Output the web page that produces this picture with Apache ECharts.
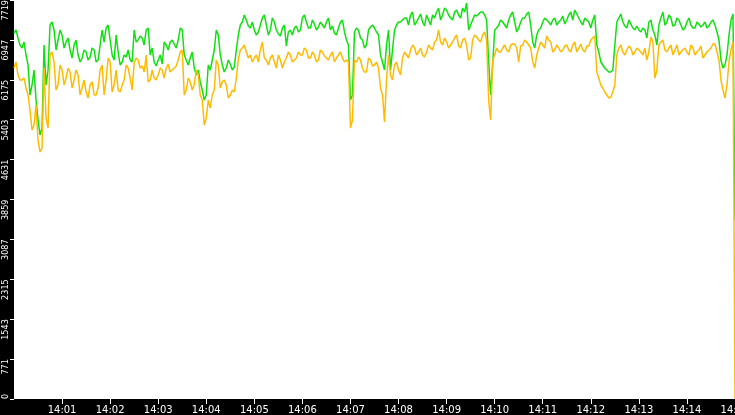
<!DOCTYPE html>
<html>
<head>
<meta charset="utf-8">
<script src="https://cdn.jsdelivr.net/npm/echarts@6/dist/echarts.min.js"></script>
<style>
html,body{margin:0;padding:0;background:#000;}
#chart{width:735px;height:415px;}
</style>
</head>
<body>
<div id="chart"></div>
<script>
// Sample times: seconds after 14:00:00 (every 2.5 s, plus the final sample at 14:15:00)
const sampleStepSeconds = 2.5;
const regularSampleCount = 360;
const tailSeconds = [900];

const greenValues = [
7081,7139,6984,6848,6790,6906,6655,6462,5881,6075,6365,5784,5397,5107,5243,6848,6075,6365,7235,7293,
7139,6752,6945,7139,7042,6790,6906,6984,6752,6597,6848,6945,6655,6520,6597,6752,6713,6558,6616,6790,
6752,6520,6558,6848,7139,6906,7177,7235,6945,6655,6558,7042,6713,6462,6520,6655,6616,6752,6558,6520,
7139,6906,6945,7023,6984,6848,7139,7177,6655,6790,6520,6442,6558,6655,6481,6906,6848,6752,6906,6945,
6868,6790,6945,7177,7139,6655,6558,6462,6597,6713,6403,6268,6365,6133,5978,5784,5881,6462,6365,6558,
6752,7139,7042,6655,6462,6326,6403,6558,6481,6365,6423,6752,7042,7235,7293,7429,7332,7216,7177,7293,
7139,7042,7100,7235,7371,7429,7235,7042,7139,7371,7293,7139,7061,7023,7177,7235,6829,7100,7139,7042,
7177,7216,7100,7139,7371,7429,7293,7177,7177,7332,7255,7139,7197,7293,7235,7177,7293,7371,7139,7216,
7081,7042,7177,7293,7332,7100,6945,6848,5784,5881,7100,7177,7139,6984,6945,6790,6848,7139,7197,7235,
7177,7100,7042,6655,6520,6365,6848,7139,6365,6752,7139,7235,7293,7293,7332,7371,7371,7235,7429,7487,
7235,7293,7371,7448,7293,7216,7429,7332,7235,7429,7371,7487,7564,7332,7429,7564,7526,7429,7371,7332,
7487,7526,7429,7371,7564,7487,7661,7139,7235,7332,7429,7409,7448,7487,7487,7429,7332,6520,5881,6462,
7139,7177,7235,7332,7293,7235,7177,7332,7429,7487,7293,7100,7177,7293,7371,7371,7448,7487,7235,6906,
6790,7042,7139,7177,7293,7371,7332,7293,7235,7332,7371,7235,7293,7332,7409,7255,7332,7429,7487,7332,
7526,7448,7371,7293,7235,7371,7332,7293,7177,7332,7429,6848,6713,6520,6462,6403,6365,6326,6326,6365,
6848,7293,7371,7448,7293,7216,7177,7332,7255,7177,7139,7216,7139,7100,7177,7139,6984,7293,7332,7139,
7042,6848,7235,7371,7487,7235,7293,7429,7371,7216,7235,7371,7332,7235,7139,7177,7293,7371,7235,7177,
7177,7293,7255,7197,7235,7293,7177,7216,7293,7332,7235,7100,6945,6558,6403,6462,6655,7042,7332,7448,
3463
];

const orangeValues = [
6403,6520,6268,6171,6171,6210,6017,5881,5591,5204,5301,5688,5010,4778,4856,6403,5436,5243,6655,6713,
6520,5978,6075,6462,6365,6075,6210,6403,6326,6017,6171,6365,6268,5881,6017,6171,5939,5823,6075,6133,
5881,5881,6017,6365,6462,5881,6171,6597,6520,5939,6075,6365,5978,5939,6075,6171,6462,6403,6210,5978,
6500,6597,6558,6403,6442,6326,6655,6133,6171,6365,6210,6171,6268,6403,6365,6210,6403,6481,6326,6365,
6403,6442,6558,6713,6752,5881,5978,6210,6133,5978,6075,6365,6268,5881,5784,5301,5436,5784,5630,5881,
5978,6558,6462,6017,6133,6171,6075,5823,5881,5978,5939,6210,6558,6752,6790,6848,6713,6597,6655,6520,
6597,6655,6520,6752,6906,6597,6558,6462,6597,6655,6520,6403,6655,6558,6403,6520,6597,6713,6655,6520,
6558,6597,6713,6655,6655,6790,6752,6597,6597,6713,6655,6520,6558,6752,6713,6636,6597,6558,6655,6713,
6520,6597,6655,6713,6597,6520,6558,6520,5243,5397,6558,6520,6616,6558,6403,6326,6326,6597,6558,6442,
6462,6520,6403,6017,5881,5359,6171,6655,6268,6171,6462,6520,6365,6268,6597,6713,6655,6597,6752,6848,
6790,6655,6713,6790,6655,6616,6713,6848,6790,6752,6906,6945,7139,6906,6848,6984,6906,6790,6848,6906,
6984,7042,6829,6790,6945,6984,6848,6558,6597,6945,7042,7003,6945,6906,7042,7100,6945,5784,5397,6558,
6655,6790,6713,6713,6790,6848,6752,6713,6848,6868,6868,6790,6520,6829,6848,6945,6906,6848,6790,6520,
6403,6655,6790,6906,6848,6790,7023,6945,6906,6713,6752,6848,6790,6713,6752,6829,6848,6752,6713,6848,
6906,6713,6790,6868,6752,6713,6829,6829,6945,6984,7023,6326,6210,6075,6017,5939,5881,5823,5842,5939,
6075,6655,6790,6848,6713,6655,6752,6829,6790,6655,6713,6790,6752,6713,6655,6790,6558,6713,7003,6906,
6210,6365,6848,6906,6945,6752,6713,6790,6848,6655,6752,6848,6655,6713,6752,6790,6713,6655,6848,6790,
6655,6713,6752,6829,6597,6655,6713,6752,6790,6868,6868,6713,6558,6171,5978,5823,6075,6520,6752,6906,
0
];

// Axis ticks
const xTickSeconds = [60,120,180,240,300,360,420,480,540,600,660,720,780,840,900];
const yMax = 7719;
const yInterval = 771.9;

const sampleSeconds = [];
for (let i = 0; i < regularSampleCount; i++) sampleSeconds.push(i * sampleStepSeconds);
tailSeconds.forEach(s => sampleSeconds.push(s));

const greenData = sampleSeconds.map((s, i) => [s, greenValues[i]]);
const orangeData = sampleSeconds.map((s, i) => [s, orangeValues[i]]);

function fmtTime(v) {
  const m = Math.round(v / 60);
  return '14:' + (m < 10 ? '0' + m : String(m));
}

const chart = echarts.init(document.getElementById('chart'), null, {renderer: 'canvas'});
chart.setOption({
  animation: false,
  backgroundColor: '#000',
  grid: {
    left: 14, right: 0, top: 0, bottom: 16,
    show: true, backgroundColor: '#fff', borderWidth: 0,
    containLabel: false, outerBoundsMode: 'none'
  },
  xAxis: {
    type: 'value', min: 0, max: 900,
    splitLine: {show: false},
    axisLine: {show: false},
    axisTick: {show: true, length: 5, lineStyle: {color: '#fff', width: 1}, customValues: xTickSeconds},
    axisLabel: {
      show: true, color: '#fff', fontSize: 10, fontFamily: 'DejaVu Sans',
      margin: 6, customValues: xTickSeconds, formatter: fmtTime,
      showMinLabel: true, showMaxLabel: true, hideOverlap: false
    }
  },
  yAxis: {
    type: 'value', min: 0, max: yMax, interval: yInterval,
    splitLine: {show: false},
    axisLine: {show: false},
    axisTick: {show: true, length: 4, lineStyle: {color: '#fff', width: 1}},
    axisLabel: {
      show: true, color: '#fff', fontSize: 9,
      fontFamily: '"DejaVu Sans Condensed", "Liberation Sans Narrow", "DejaVu Sans"',
      rotate: 90, align: 'right', verticalAlign: 'bottom', margin: 4,
      alignMinLabel: 'left',
      showMinLabel: true, showMaxLabel: true, hideOverlap: false,
      formatter: v => String(Math.floor(v + 1e-6))
    }
  },
  series: [
    {
      name: 'green', type: 'line', data: greenData, showSymbol: false,
      lineStyle: {color: '#10e010', width: 1.5}, itemStyle: {color: '#10e010'}, z: 2
    },
    {
      name: 'orange', type: 'line', data: orangeData, showSymbol: false,
      lineStyle: {color: '#ffbb00', width: 1.5}, itemStyle: {color: '#ffbb00'}, z: 3
    }
  ]
});
</script>
</body>
</html>
